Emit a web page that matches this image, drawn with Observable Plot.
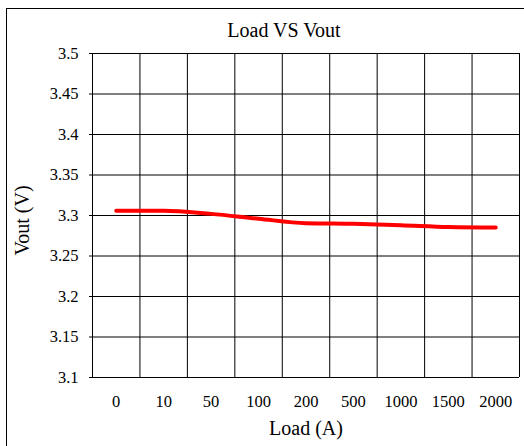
<!DOCTYPE html>
<html>
<head>
<meta charset="utf-8">
<script src="https://cdn.jsdelivr.net/npm/d3@7"></script>
<script src="https://cdn.jsdelivr.net/npm/@observablehq/plot@0.6"></script>
<style>
  html, body { margin: 0; padding: 0; background: #fff; overflow: hidden; }
  #wrap { position: relative; width: 524px; height: 446px; }
  #frame { position: absolute; left: 6px; top: 8px; width: 640px; height: 560px; border: 1.5px solid #000; box-sizing: border-box; pointer-events: none; }
  #title { position: relative; height: 40px; font-family: "Liberation Serif", "DejaVu Serif", serif; font-size: 20px; color: #000; }
  #title span { position: absolute; left: 284px; top: 19px; line-height: 22px; transform: translateX(-50%); white-space: nowrap; }
  #chart svg { display: block; }
</style>
</head>
<body>
<div id="wrap">
  <div id="frame"></div>
  <div id="title"><span>Load VS Vout</span></div>
  <div id="chart"></div>
</div>
<script>
const titleText = "Load VS Vout";
const xLabel = "Load (A)";
const yLabel = "Vout (V)";
const loads = ["0", "10", "50", "100", "200", "500", "1000", "1500", "2000"];
const vout = [3.306, 3.306, 3.302, 3.296, 3.2905, 3.2897, 3.288, 3.2858, 3.2852];
const yTicks = [3.1, 3.15, 3.2, 3.25, 3.3, 3.35, 3.4, 3.45, 3.5];

document.querySelector("#title span").textContent = titleText;

const idx = loads.map((d, i) => i);
const edges = loads.map((d, i) => i - 0.5).concat([loads.length - 0.5]);

const chart = Plot.plot({
  width: 524,
  height: 406,
  marginLeft: 92,
  marginRight: 5,
  marginTop: 13,
  marginBottom: 69,
  style: { fontFamily: "'Liberation Serif', 'DejaVu Serif', serif", fontSize: "16.5px", color: "#000", background: "transparent" },
  x: {
    type: "linear",
    domain: [-0.5, loads.length - 0.5],
    ticks: idx,
    tickFormat: i => loads[i],
    tickSize: 0,
    tickPadding: 18,
    label: null
  },
  y: {
    domain: [yTicks[0], yTicks[yTicks.length - 1]],
    ticks: yTicks,
    tickFormat: d => String(+d.toFixed(2)),
    tickSize: 3,
    tickPadding: 11,
    label: null
  },
  marks: [
    Plot.ruleY(yTicks, { stroke: "#000", strokeWidth: 1 }),
    Plot.ruleX(edges, { stroke: "#000", strokeWidth: 1 }),
    Plot.line(idx, { x: i => i, y: i => vout[i], stroke: "#ff0000", strokeWidth: 4, curve: "monotone-x" }),
    Plot.text([xLabel], { text: d => d, frameAnchor: "bottom", dy: 51, fontSize: 20, lineAnchor: "middle", textAnchor: "middle" }),
    Plot.text([yLabel], { text: d => d, frameAnchor: "left", dx: -70, dy: 5, rotate: -90, fontSize: 20, lineAnchor: "middle", textAnchor: "middle" })
  ]
});
document.getElementById("chart").appendChild(chart);
</script>
</body>
</html>
